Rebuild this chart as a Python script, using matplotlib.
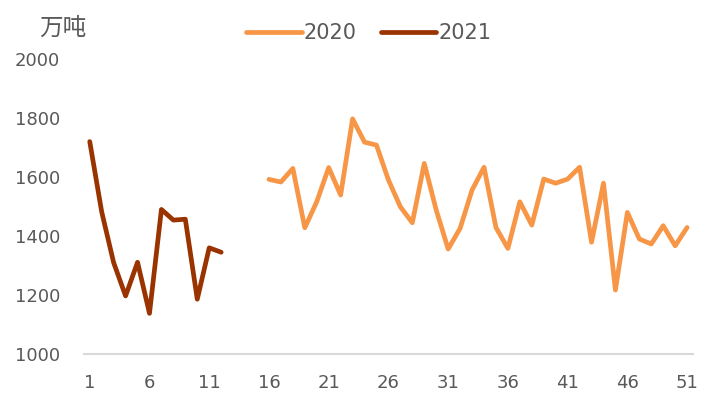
import matplotlib
matplotlib.use("Agg")
import matplotlib.pyplot as plt

plt.rcParams['font.family'] = ['DejaVu Sans', 'Noto Sans CJK SC']

weeks_2021 = list(range(1, 13))
vals_2021 = [1720, 1482, 1310, 1197, 1311, 1138, 1490, 1454, 1457, 1186, 1360, 1345]

weeks_2020 = list(range(16, 52))
vals_2020 = [1592, 1583, 1629, 1428, 1516, 1632, 1539, 1797, 1718, 1708,
             1590, 1499, 1445, 1646, 1488, 1356, 1426, 1556, 1633, 1429,
             1358, 1516, 1437, 1593, 1579, 1593, 1633, 1379, 1579, 1217,
             1480, 1390, 1373, 1435, 1367, 1429]

xticks = list(range(1, 52, 5))
yticks = [1000, 1200, 1400, 1600, 1800, 2000]
unit = '万吨'

gray = '#595959'

fig = plt.figure(figsize=(7.16, 4.01), dpi=100)
ax = fig.add_axes([0.117, 0.117, 0.851, 0.736])

ax.plot(weeks_2020, vals_2020, color='#F79646', lw=3.4, label='2020',
        solid_capstyle='round', solid_joinstyle='round')
ax.plot(weeks_2021, vals_2021, color='#993300', lw=3.4, label='2021',
        solid_capstyle='round', solid_joinstyle='round')

ax.set_xlim(0.5, 51.5)
ax.set_ylim(1000, 2000)
ax.set_xticks(xticks)
ax.set_yticks(yticks)

for s in ['top', 'right', 'left']:
    ax.spines[s].set_visible(False)
ax.spines['bottom'].set_color('#d9d9d9')
ax.spines['bottom'].set_linewidth(1.5)
ax.tick_params(axis='both', length=0, labelsize=13, labelcolor=gray)
ax.tick_params(axis='y', pad=17)
ax.tick_params(axis='x', pad=14)

fig.text(0.054, 0.93, unit, fontsize=17, color=gray, va='center', ha='left',
         family=['Noto Sans CJK SC', 'DejaVu Sans'])

leg = fig.legend(loc='center', bbox_to_anchor=(0.515, 0.918), ncol=2,
                 frameon=False, fontsize=15, handlelength=2.65,
                 handletextpad=0.1, columnspacing=1.15)
for t in leg.get_texts():
    t.set_color(gray)

fig.savefig('out.png', dpi=100)
